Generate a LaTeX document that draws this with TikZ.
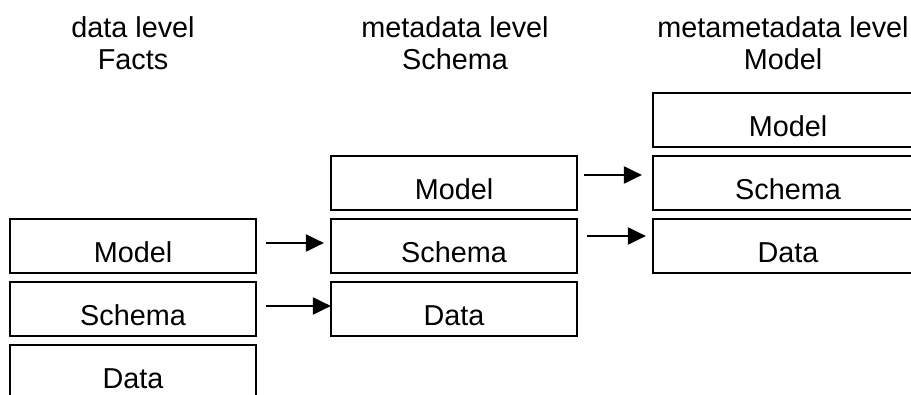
\documentclass[tikz,border=0pt]{standalone}
\usepackage{fontspec}
\setmainfont{Liberation Sans}
\usetikzlibrary{arrows.meta}

\begin{document}
\begin{tikzpicture}[
    x=1pt, y=-1pt,
    every node/.style={font=\fontsize{28.8}{32.6}\selectfont},
    level/.style={align=center, anchor=north, inner sep=0pt},
    box/.style={draw, line width=2.2pt, minimum width=246pt, minimum height=54pt, inner sep=0pt, text height=34pt, text depth=0pt},
    link/.style={-{Triangle[length=18pt, width=17pt]}, line width=2.1pt}
]
\useasboundingbox (0,0) rectangle (911,395);

\node[level] (hfacts)  at (133,16) {data level\\Facts};
\node[level] (hschema) at (455,16) {metadata level\\Schema};
\node[level] (hmodel)  at (783,16) {metametadata level\\Model};

% data level
\node[box] (m1) at (133,246) {Model};
\node[box] (s1) at (133,309) {Schema};
\node[box] (d1) at (133,372) {Data};

% metadata level
\node[box] (m2) at (454,183) {Model};
\node[box] (s2) at (454,246) {Schema};
\node[box] (d2) at (454,309) {Data};

% metametadata level
\node[box, minimum width=270pt] (m3) at (788,120) {Model};
\node[box, minimum width=270pt] (s3) at (788,183) {Schema};
\node[box, minimum width=270pt] (d3) at (788,246) {Data};

\draw[link, shorten <=9pt, shorten >=6pt] ([yshift=3pt]m1.east) -- ([yshift=3pt]s2.west);
\draw[link, shorten <=9pt, shorten >=-1pt] ([yshift=3pt]s1.east) -- ([yshift=3pt]d2.west);
\draw[link, shorten <=6pt, shorten >=10pt] ([yshift=8pt]m2.east) -- ([yshift=8pt]s3.west);
\draw[link, shorten <=9pt, shorten >=6pt] ([yshift=10pt]s2.east) -- ([yshift=10pt]d3.west);

\end{tikzpicture}
\end{document}
